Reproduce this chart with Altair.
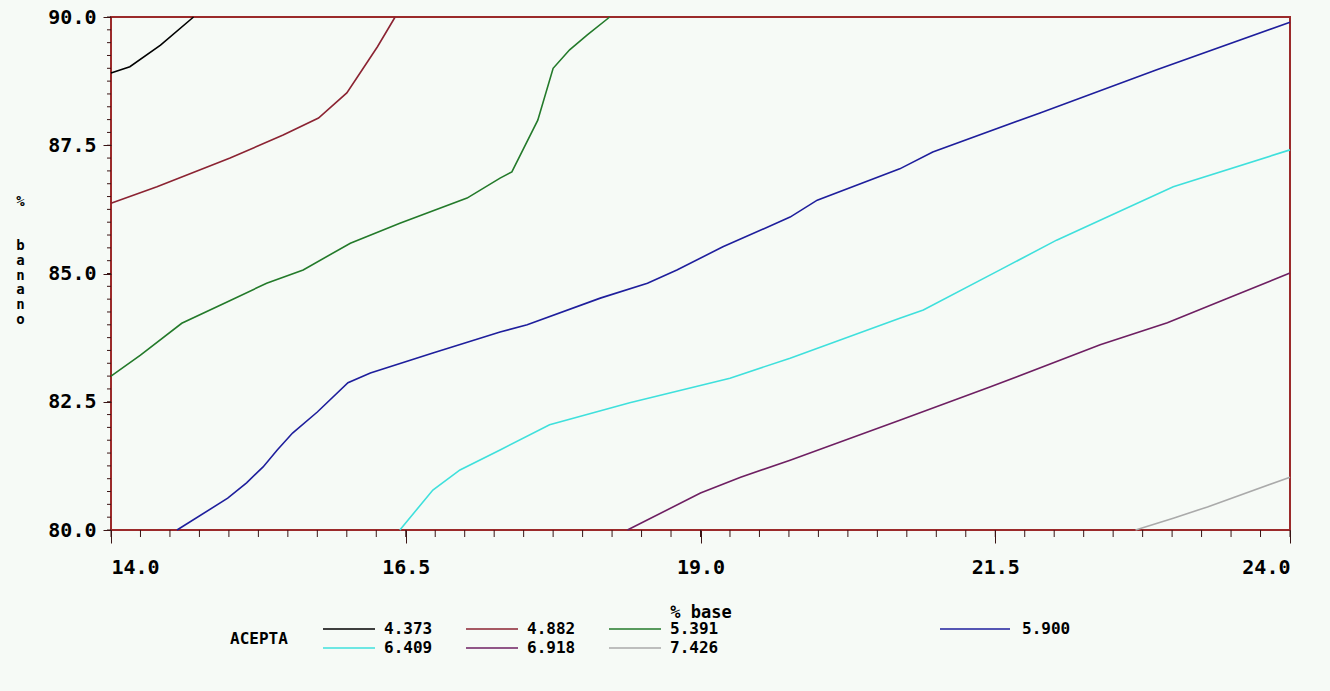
import altair as alt
import pandas as pd

# contour levels (legend labels) and colours
levels = ["4.373", "4.882", "5.391", "5.900", "6.409", "6.918", "7.426"]
colors = ["#000000", "#8b2332", "#237a2a", "#1e1e9c", "#3fe0dc", "#6e1f62", "#aaaaaa"]

# contour lines (x = % base, y = % banano)
x_4373 = [14.0, 14.16, 14.42, 14.70]
y_4373 = [88.91, 89.03, 89.45, 90.0]

x_4882 = [14.0, 14.39, 15.01, 15.46, 15.76, 16.0, 16.09, 16.26, 16.41]
y_4882 = [86.37, 86.69, 87.25, 87.70, 88.03, 88.52, 88.83, 89.42, 90.0]

x_5391 = [14.0, 14.25, 14.60, 14.98, 15.32, 15.63, 16.03, 16.45, 17.02, 17.30, 17.40, 17.62, 17.75, 17.89, 18.04, 18.23]
y_5391 = [83.0, 83.41, 84.03, 84.44, 84.81, 85.07, 85.59, 85.98, 86.47, 86.86, 86.98, 87.99, 89.0, 89.36, 89.65, 90.0]

x_5900 = [14.56, 14.99, 15.15, 15.29, 15.41, 15.54, 15.75, 16.01, 16.20, 16.73, 17.30, 17.53, 18.15, 18.55, 18.80, 19.19, 19.76, 19.99, 20.69, 20.97, 21.88, 22.87, 24.0]
y_5900 = [80.0, 80.62, 80.92, 81.23, 81.56, 81.89, 82.30, 82.87, 83.06, 83.45, 83.86, 84.0, 84.52, 84.81, 85.07, 85.52, 86.10, 86.43, 87.04, 87.37, 88.13, 88.97, 89.90]

x_6409 = [16.45, 16.73, 16.96, 17.30, 17.72, 18.40, 19.25, 19.76, 20.69, 20.89, 21.54, 22.02, 22.45, 23.01, 24.0]
y_6409 = [80.0, 80.78, 81.17, 81.56, 82.05, 82.48, 82.96, 83.35, 84.13, 84.29, 85.07, 85.65, 86.10, 86.69, 87.41]

x_6918 = [18.38, 19.0, 19.34, 19.76, 20.69, 21.46, 22.39, 22.96, 23.43, 24.0]
y_6918 = [80.0, 80.72, 81.03, 81.36, 82.14, 82.79, 83.61, 84.04, 84.48, 85.01]

x_7426 = [22.69, 23.01, 23.30, 24.0]
y_7426 = [80.0, 80.23, 80.45, 81.03]

# axis ticks
x_major = [14.0, 16.5, 19.0, 21.5, 24.0]
y_major = [80.0, 82.5, 85.0, 87.5, 90.0]
x_minor = [14.0 + 0.25 * i for i in range(41)]
y_minor = [80.0 + 0.25 * i for i in range(41)]

# vertical y-axis title, one character per line (blank lines use a blank glyph)
y_title = ["%", "\u2800", "\u2800", "b", "a", "n", "a", "n", "o"]

series = {
    "4.373": (x_4373, y_4373), "4.882": (x_4882, y_4882), "5.391": (x_5391, y_5391),
    "5.900": (x_5900, y_5900), "6.409": (x_6409, y_6409), "6.918": (x_6918, y_6918),
    "7.426": (x_7426, y_7426),
}
rows = []
for lev, (xs, ys) in series.items():
    for i, (a, b) in enumerate(zip(xs, ys)):
        rows.append({"level": lev, "base": a, "banano": b, "ord": i})
df = pd.DataFrame(rows)

FONT = "DejaVu Sans Mono"
FRAME = "#9b2a2a"
TICK = "#3a1414"
BG = "#f6faf6"

xscale = alt.Scale(domain=[14, 24], nice=False, zero=False)
yscale = alt.Scale(domain=[80, 90], nice=False, zero=False)

xaxis = alt.Axis(values=x_major, format=".1f", title="% base", tickSize=13,
                 labelPadding=14, titlePadding=27, domain=False, grid=False,
                 tickColor=TICK, labelFontSize=20, titleFontSize=17)
yaxis = alt.Axis(values=y_major, format=".1f",
                 title=y_title,
                 titleAngle=0, titleX=-91, titleY=177, titleAlign="center",
                 titleBaseline="top", titleLineHeight=14.8, titleFontSize=14,
                 tickSize=8, labelPadding=7, domain=False, grid=False,
                 tickColor=TICK, labelFontSize=20)

other_levels = [l for l in levels if l != "5.900"]
other_colors = [c for l, c in zip(levels, colors) if l != "5.900"]

lines_main = alt.Chart(df).transform_filter(alt.datum.level != "5.900").mark_line(strokeWidth=1.6).encode(
    x=alt.X("base:Q", scale=xscale, axis=xaxis),
    y=alt.Y("banano:Q", scale=yscale, axis=yaxis),
    color=alt.Color("level:N", scale=alt.Scale(domain=other_levels, range=other_colors),
                    legend=alt.Legend(title="ACEPTA", orient="none", legendX=119, legendY=604,
                                      columns=3, direction="horizontal",
                                      titleOrient="left", titlePadding=53,
                                      symbolType="M-5.2,0H5.2", symbolSize=100,
                                      symbolStrokeWidth=1.6, labelOffset=27,
                                      columnPadding=29, rowPadding=3, padding=0)),
    order="ord:Q",
)

lines_blue = alt.Chart(df).transform_filter(alt.datum.level == "5.900").mark_line(strokeWidth=1.6).encode(
    x=alt.X("base:Q", scale=xscale, axis=xaxis),
    y=alt.Y("banano:Q", scale=yscale, axis=yaxis),
    stroke=alt.Stroke("level:N", scale=alt.Scale(domain=["5.900"], range=[colors[3]]),
                      legend=alt.Legend(title=None, orient="none", legendX=856, legendY=604,
                                        symbolType="M-7,0H7", symbolSize=100,
                                        symbolStrokeWidth=1.6, labelOffset=39, padding=0)),
    order="ord:Q",
)

xminor = alt.Chart(pd.DataFrame({"base": x_minor})).mark_rule(color=TICK, strokeWidth=1).encode(
    x=alt.X("base:Q", scale=xscale, axis=xaxis),
    y=alt.value(513), y2=alt.value(520),
)
yminor = alt.Chart(pd.DataFrame({"banano": y_minor})).mark_rule(color=TICK, strokeWidth=1).encode(
    y=alt.Y("banano:Q", scale=yscale, axis=yaxis),
    x=alt.value(0), x2=alt.value(-4),
)

chart = alt.layer(lines_main, lines_blue, xminor, yminor).properties(
    width=1179, height=513,
    padding={"left": 111, "top": 17, "right": 40, "bottom": 161},
    autosize=alt.AutoSizeParams(type="none"),
    background=BG,
).configure_view(
    stroke=FRAME, strokeWidth=2, fill=BG,
).configure_axis(
    labelFont=FONT, labelFontWeight="bold", labelColor="#000000",
    titleFont=FONT, titleFontWeight="bold", titleColor="#000000",
).configure_legend(
    labelFont=FONT, labelFontWeight="bold", labelFontSize=16, labelColor="#000000",
    titleFont=FONT, titleFontWeight="bold", titleFontSize=16, titleColor="#000000",
)

chart.save("out.html", embed_options={"renderer": "svg", "actions": False})
